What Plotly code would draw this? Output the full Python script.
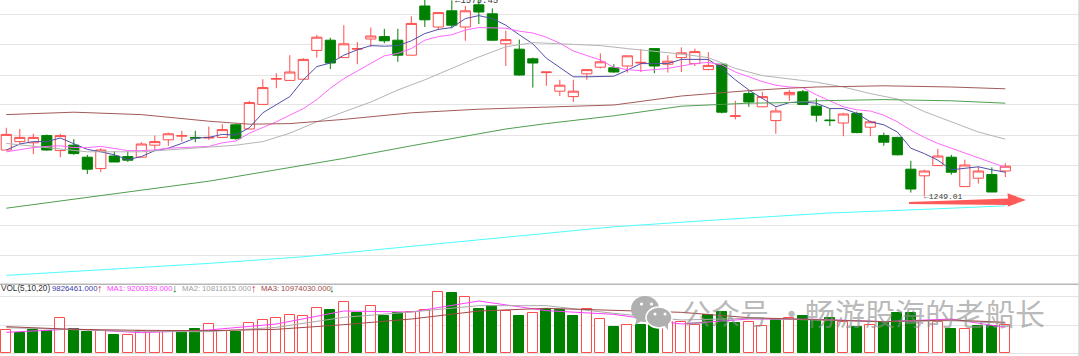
import plotly.graph_objects as go

# Daily candles (index 0..74)
opens = [1326,1340,1338,1350,1325,1334,1314,1295,1316,1315,1314,1334,1343,1349,1347,1346,1347,1368,1361,1402,1444,1442,1444,1492,1509,
         1480,1494,1511,1515,1509,1484,1566,1531,1558,1531,1568,1553,1503,1494,1478,1455,1424,1415,1453,1464,1463,1466,1471,1495,1469,
         1480,1470,1460,1469,1382,1420,1398,1375,1418,1423,1399,1376,1371,1387,1364,1350,1347,1294,1283,1300,1314,1265,1279,1285,1291]
closes = [1352,1347,1347,1326,1350,1320,1294,1326,1306,1309,1336,1340,1353,1350,1346,1347,1360,1345,1405,1430,1445,1456,1477,1514,1471,
          1503,1495,1516,1508,1484,1537,1543,1555,1534,1558,1556,1509,1510,1451,1471,1456,1434,1424,1460,1473,1456,1483,1472,1466,1474,
          1488,1490,1467,1389,1383,1406,1415,1391,1422,1402,1384,1375,1386,1355,1373,1339,1318,1261,1291,1316,1289,1301,1291,1256,1299]
highs = [1363,1361,1353,1352,1353,1344,1318,1329,1324,1324,1339,1350,1355,1358,1358,1365,1369,1370,1408,1444,1454,1484,1479,1518,1513,
         1534,1506,1530,1528,1528,1549,1576,1556,1575.45,1566,1576,1562,1525,1510,1480,1456,1443,1443,1460,1487,1469,1483,1494,1495,1484,
         1497,1495,1489,1470,1408,1426,1423,1397,1426,1426,1412,1395,1388,1390,1375,1355,1348,1308,1293,1328,1318,1310,1298,1297,1304]
lows = [1326,1334,1319,1325,1314,1318,1286,1289,1306,1306,1314,1326,1333,1340,1339,1343,1346,1343,1361,1401,1429,1442,1443,1480,1461,
        1480,1469,1498,1504,1473,1484,1531,1526,1529,1508,1536,1508,1466,1450,1430,1433,1416,1406,1443,1462,1455,1455,1456,1454,1455,
        1456,1466,1459,1387,1377,1398,1398,1353,1408,1402,1373,1366,1349,1354,1349,1333,1317,1255,1249.01,1300,1285,1265,1270,1256,1281]

ma5 = [1326,1336,1340,1340,1346,1337,1327,1323,1318,1310,1315,1325,1329,1337,1346,1347,1352,1351,1363,1388,1401,1415,1443,1465,1471,
       1484,1493,1500,1499,1500,1508,1520,1527,1530,1545,1550,1545,1534,1518,1503,1479,1464,1448,1448,1449,1449,1459,1470,1470,1470,
       1477,1477,1477,1462,1443,1426,1412,1398,1405,1406,1404,1395,1395,1387,1373,1368,1356,1329,1320,1309,1293,1295,1298,1293,1289]
ma10 = [1323,1327,1330,1332,1333,1330,1330,1332,1329,1325,1325,1326,1329,1330,1330,1332,1338,1341,1354,1363,1373,1384,1395,1410,1429,
        1445,1458,1470,1483,1487,1495,1509,1515,1518,1526,1530,1529,1529,1524,1521,1514,1504,1491,1483,1476,1464,1460,1458,1460,1462,
        1466,1470,1472,1468,1456,1448,1440,1434,1431,1430,1418,1408,1398,1393,1391,1384,1373,1359,1347,1337,1329,1320,1312,1304,1297]
ma20_i = [0,6,10,15,17,19,21,23,25,27,29,31,33,35,37,39,42,44,46,48,50,52,54,56,58,60,62,64,66,68,70,72,74]
ma20 = [1337,1323,1323,1330,1334,1340,1354,1373,1390,1406,1426,1443,1462,1481,1498,1505,1502,1500,1495,1491,1486,1480,1462,1450,1444,1439,1431,1420,1411,1390,1373,1356,1344]
ma60_i = [0,5,10,15,18,21,25,30,35,40,45,50,55,58,60,65,70,74]
ma60 = [1385,1389,1385,1374,1369,1370,1377,1388,1394,1397,1401,1416,1425,1429,1431,1433,1431,1428]
ma120_i = [0,5,10,15,20,25,30,35,37,40,45,50,55,58,60,65,70,74]
ma120 = [1229,1244,1260,1274,1293,1312,1333,1353,1361,1370,1383,1399,1404,1405,1408,1410,1408,1404]
ma250_i = [0,7,15,22,30,37,45,53,61,69,74]
ma250 = [1117,1126,1137,1148,1165,1181,1198,1210,1221,1228,1233]

# Volume, in units of 10,000
volume = [852,744,840,816,1260,864,768,816,648,660,816,780,756,780,864,1068,816,780,1080,1212,1260,1368,1356,1620,1572,
          1836,1452,1716,1344,1464,1476,1560,2196,2160,2016,1596,1704,1524,1356,1440,1596,1560,1344,1596,1224,936,1020,1032,1056,1140,
          1140,1020,1380,1476,1104,1140,996,1200,1260,1344,1200,1260,1116,960,1008,1140,1452,1464,1176,1140,876,876,984,984,1008]
vol_dir = list("rgggrggrgrrrrggrrgrrrrrrgrgrggrrrgrggrgrgggrrgrggrrrgggrrgrgggrgrgggrrgrggr")[:75]
vma_i = [0,5,10,15,20,25,30,35,40,45,50,55,60,65,70,74]
vma1 = [756,876,744,840,1056,1524,1488,1884,1536,1404,1056,1236,1224,1140,1236,936]
vma2 = [924,840,780,780,936,1296,1488,1716,1716,1440,1200,1260,1200,1140,1176,1080]
vma3 = [960,864,828,816,864,1032,1236,1524,1620,1560,1476,1284,1224,1140,1200,1116]

price_ticks = [1552,1502,1451,1402,1351,1301,1251,1200,1151]
vol_ticks = [0,1008,2063]

RED = "#ff4c4c"
GREEN = "#008000"
W, H = 1080, 356
def px(x): return x / W
def py(y): return 1 - y / H

idx = list(range(75))
fig = go.Figure()

fig.add_trace(go.Candlestick(
    x=idx, open=opens, high=highs, low=lows, close=closes, whiskerwidth=0,
    increasing=dict(line=dict(color=RED, width=1), fillcolor="white"),
    decreasing=dict(line=dict(color=GREEN, width=1), fillcolor=GREEN),
    showlegend=False, xaxis="x", yaxis="y"))

def line(x, y, color, ax="y"):
    fig.add_trace(go.Scatter(x=x, y=y, mode="lines", line=dict(color=color, width=1),
                             showlegend=False, xaxis="x", yaxis=ax))

line(idx, ma5, "#5050a8")
line(idx, ma10, "#ff66ff")
line(ma20_i, ma20, "#b4b4b4")
line(ma60_i, ma60, "#a35a5a")
line(ma120_i, ma120, "#4f9f4f")
line(ma250_i, ma250, "#4dfdfd")

fig.add_trace(go.Bar(
    x=idx, y=volume, width=0.74,
    marker=dict(color=["white" if d == "r" else GREEN for d in vol_dir],
                line=dict(color=[RED if d == "r" else GREEN for d in vol_dir], width=1)),
    showlegend=False, xaxis="x", yaxis="y2"))
line(vma_i, vma1, "#ff40ff", "y2")
line(vma_i, vma2, "#aaaaaa", "y2")
line(vma_i, vma3, "#a04848", "y2")

anns = []
def text(x, y, s, color, size=7.8, family="Liberation Sans", anchor="left"):
    anns.append(dict(xref="paper", yref="paper", x=px(x), y=py(y), text=s, showarrow=False,
                     xanchor=anchor, yanchor="middle", align="left", borderpad=0,
                     font=dict(size=size, color=color, family=family)))

text(0, 288, "VOL(5,10,20)", "#303030", size=8.2)
text(51, 288, "9826461.000", "#3c3ca8")
text(96, 288, "↑", "#e02020", size=11)
text(106, 288, "MA1:", "#ff40ff")
text(126, 288, "9200339.000", "#ff40ff")
text(171, 288, "↓", "#108010", size=11)
text(181, 288, "MA2:", "#a0a0a0")
text(201, 288, "10811615.000", "#a0a0a0")
text(250, 288, "↑", "#e02020", size=11)
text(260, 288, "MA3:", "#a04848")
text(280, 288, "10974030.000", "#a04848")
text(328, 288, "↓", "#108010", size=11)
text(454, 1, "←1575.45", "#404040", size=9, family="Liberation Mono")
text(923, 196, "←1249.01", "#404040", size=8, family="Liberation Mono")

# Watermark text
WM = "rgba(140,140,140,0.62)"
text(681, 312, "公众号", WM, size=29, family="Noto Sans CJK SC")
text(776, 312, "·", WM, size=29, family="Noto Sans CJK SC")
text(804, 312, "畅游股海的老船长", WM, size=30, family="Noto Sans CJK SC")

def poly(points, color):
    d = "M" + " L".join(f"{px(a):.5f},{py(b):.5f}" for a, b in points) + " Z"
    return dict(type="path", xref="paper", yref="paper", path=d, fillcolor=color, line=dict(width=0), layer="above")

def circle(cx, cy, rx, ry, color, lw=0, lc="white"):
    return dict(type="circle", xref="paper", yref="paper", x0=px(cx-rx), x1=px(cx+rx), y0=py(cy+ry), y1=py(cy-ry),
                fillcolor=color, line=dict(width=lw, color=lc), layer="above")

GI = "#b0b0b0"
shapes = [
    dict(type="line", xref="paper", yref="paper", x0=0, x1=1, y0=py(284.3), y1=py(284.3),
         line=dict(color="#b8b8b8", width=1.5), layer="below"),
    dict(type="rect", xref="paper", yref="paper", x0=px(1078.3), x1=1, y0=0, y1=1,
         fillcolor="#d4d4d4", line=dict(width=0), layer="above"),
    poly([(909, 202), (1008, 198.5), (1007.5, 193.3), (1026, 200), (1007.5, 206.7), (1008, 205), (909, 204)], "#ff5a5a"),
    circle(645, 309, 14, 13, GI),
    poly([(637, 318), (635, 325), (643, 320)], GI),
    circle(641.5, 304, 1.6, 1.6, "white"),
    circle(651.5, 304, 1.6, 1.6, "white"),
    circle(659, 317.5, 13, 10.5, GI, lw=1.5),
    poly([(664, 325), (668, 330), (668, 323)], GI),
    circle(655, 314, 1.5, 1.5, "white"),
    circle(665, 314, 1.5, 1.5, "white"),
]

PRICE_BOTTOM = 280
fig.update_layout(
    width=W, height=H, margin=dict(l=0, r=0, t=0, b=0),
    paper_bgcolor="white", plot_bgcolor="white", showlegend=False,
    boxgap=0.25, boxgroupgap=0, bargap=0,
    annotations=anns, shapes=shapes,
    xaxis=dict(range=[-0.467, 79.53], visible=False, rangeslider=dict(visible=False), fixedrange=True),
    yaxis=dict(domain=[py(PRICE_BOTTOM), 1], range=[1576 - PRICE_BOTTOM * 5 / 3, 1576],
               tickmode="array", tickvals=price_ticks, showticklabels=False, ticks="",
               showgrid=True, gridcolor="#e4e4e4", gridwidth=1, zeroline=False, showline=False),
    yaxis2=dict(domain=[0, py(PRICE_BOTTOM)], range=[-96, 2640],
                tickmode="array", tickvals=vol_ticks, showticklabels=False, ticks="",
                showgrid=True, gridcolor="#e4e4e4", gridwidth=1, zeroline=False, showline=False),
)
fig.write_html("out.html", config=dict(displayModeBar=False),
               post_script="document.body.style.margin='0';document.documentElement.style.overflow='hidden';")
